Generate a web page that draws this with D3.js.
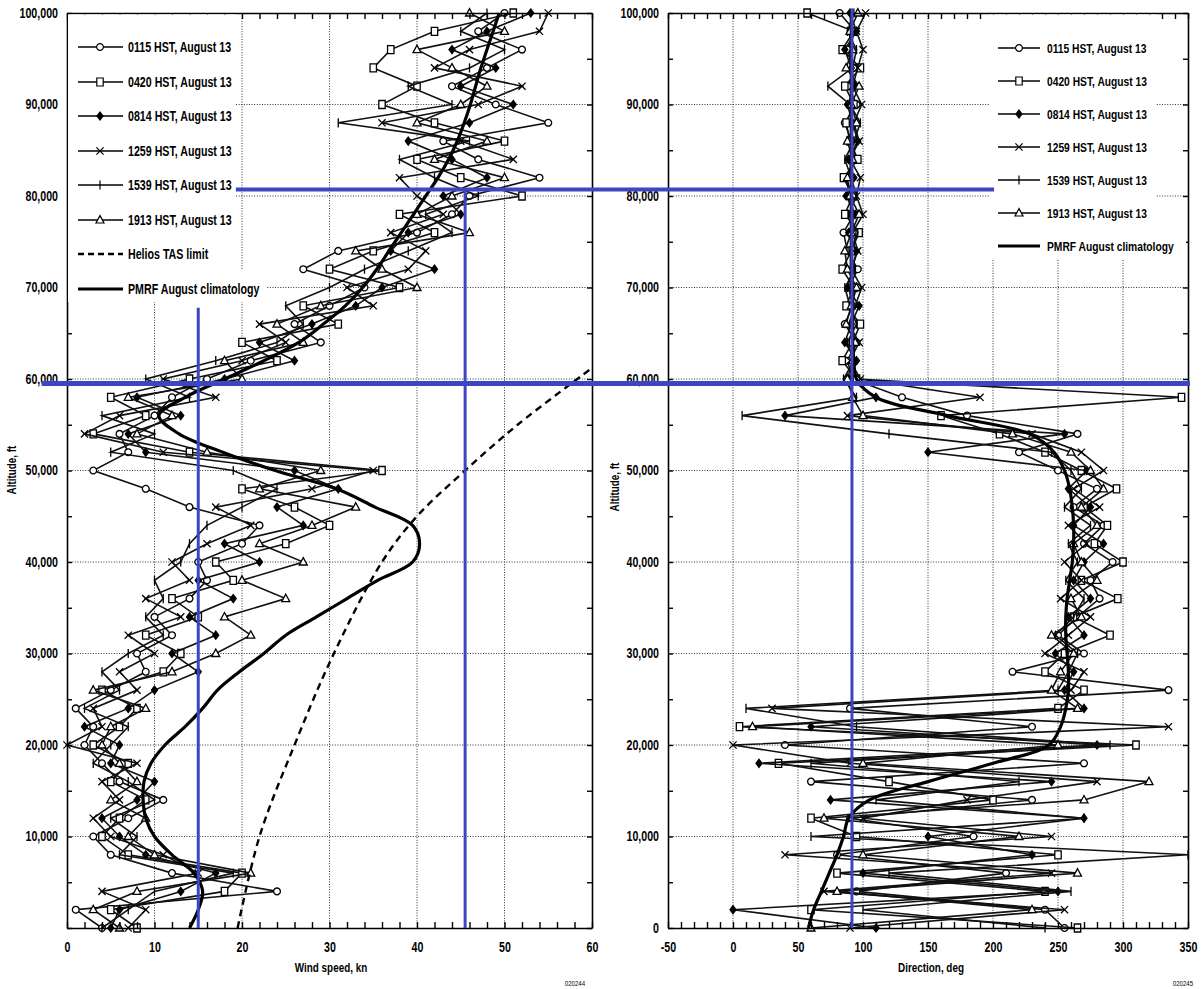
<!DOCTYPE html>
<html><head><meta charset="utf-8">
<script src="https://cdn.jsdelivr.net/npm/d3@7"></script>
<style>
html,body{margin:0;padding:0;background:#fff;}
svg{display:block;font-family:"Liberation Sans",Arial,sans-serif;font-weight:bold;}
</style></head>
<body>
<svg id="chart" width="1203" height="989"></svg>
<script>
// ---------------- DATA ----------------
const altitudesFt = [0,2000,4000,6000,8000,10000,12000,14000,16000,18000,20000,22000,24000,26000,28000,30000,32000,34000,36000,38000,40000,42000,44000,46000,48000,50000,52000,54000,56000,58000,60000,62000,64000,66000,68000,70000,72000,74000,76000,78000,80000,82000,84000,86000,88000,90000,92000,94000,96000,98000,100000];

const seriesNames = ["0115 HST, August 13","0420 HST, August 13","0814 HST, August 13","1259 HST, August 13","1539 HST, August 13","1913 HST, August 13"];
const markerTypes = ["circle","square","diamond","x","plus","triangle"];

// wind speed, kn
const speed0115 = [4,1,24,12,5,3,7,11,6,4,2,3,1,5,9,8,12,10,14,16,15,20,22,14,9,3,7,6,10,12,16,21,29,26,30,34,27,31,40,44,46,54,47,43,55,49,44,48,52,47,50];
const speed0420 = [8,5,18,20,7,4,6,9,5,7,3,6,8,4,11,13,9,15,12,19,17,25,30,26,20,36,14,3,9,5,14,24,20,31,27,38,30,35,42,38,52,45,40,50,42,36,40,35,37,42,51];
const speed0814 = [5,6,13,17,9,6,4,8,10,5,6,2,7,10,15,12,17,14,19,15,22,18,27,24,31,26,9,7,13,8,18,26,22,28,33,36,42,37,39,45,43,48,44,39,46,51,45,49,44,48,53];
const speed1259 = [7,9,4,15,11,5,3,6,4,8,0,4,3,8,6,10,7,13,9,14,12,16,21,17,28,35,11,2,6,17,11,20,25,22,35,32,39,41,37,43,40,38,51,45,36,47,52,42,46,54,55];
const speed1539 = [4,7,10,19,6,8,5,10,7,3,5,7,2,6,4,7,11,9,11,10,13,14,16,20,24,19,5,10,4,14,9,17,24,27,25,30,34,39,44,41,47,42,38,46,31,44,39,46,50,45,48];
const speed1913 = [6,3,8,21,10,7,9,5,8,6,4,5,9,3,12,17,21,18,25,20,27,22,28,33,22,29,16,8,12,7,20,18,27,24,29,40,36,33,46,40,44,50,42,48,40,45,48,44,40,50,46];
const climSpeed = [14,15,15.5,14.5,12,10,9,8.7,8.8,9.6,11.2,13.5,15.5,17.2,19.7,22.5,25,28.5,32,35.5,39.5,40.3,39.5,35.2,30.8,23.8,17.8,12.8,10.5,13.5,18,22.5,26.5,29.3,31.8,33.8,35.4,36.8,38.2,39.6,41,42.4,43.6,44.6,45.4,46.1,46.7,47.3,48,48.7,49.4];
const tasAltFt = [0,10000,20000,30000,40000,45000,50000,55000,61200];
const tasSpeed = [19.5,22,26,30.5,36,40,45.5,51.5,60];

// direction, deg
const dir0115 = [255,240,95,210,80,185,90,230,60,270,40,230,90,335,215,270,250,265,282,275,292,270,285,262,280,250,220,265,180,130,92,88,95,86,92,89,96,88,85,93,90,87,94,91,86,95,89,93,88,94,82];
const dir0420 = [265,60,240,80,250,95,60,200,120,35,310,5,250,270,240,255,290,262,296,268,300,278,288,270,295,268,240,205,160,345,95,84,92,98,87,93,84,91,97,86,92,85,96,90,87,93,86,98,84,93,57];
const dir0814 = [110,0,250,100,230,150,270,75,245,20,280,60,270,255,262,248,270,258,275,262,270,285,262,275,258,272,150,255,40,110,90,95,86,91,97,88,92,95,89,94,87,93,89,96,92,88,94,91,86,95,90];
const dir1259 = [90,255,70,245,40,245,100,180,280,90,0,335,30,260,270,240,258,275,252,268,255,272,258,282,262,285,268,230,88,190,98,90,97,89,94,99,91,96,92,100,95,98,90,97,93,99,92,96,100,95,102];
const dir1539 = [240,100,260,120,350,60,270,110,220,60,290,95,10,250,258,265,248,262,270,256,265,258,275,255,268,260,245,120,7,95,85,93,88,95,90,86,94,90,96,89,95,91,86,93,98,90,73,92,95,88,93];
const dir1913 = [60,230,80,265,100,220,70,270,320,100,250,15,265,245,252,262,245,268,260,280,268,262,280,268,285,275,260,215,100,92,88,92,94,87,91,95,88,86,91,97,90,88,92,88,95,91,97,87,92,90,96];
const climDir = [58,62,68,74,80,85,89,105,150,200,243,252,256,258,258,257,256,256,257,259,261,262,262,261,259,255,247,228,165,110,95,93,92,92,92,92,91,91,91,91,91,91,91,91,91,91,91,91,91,91,91];

const speedTicks = [0,10,20,30,40,50,60];
const dirTicks = [-50,0,50,100,150,200,250,300,350];
const altTicks = [0,10000,20000,30000,40000,50000,60000,70000,80000,90000,100000];

// annotation overlays (data units)
const annoSpeedKn = [15, 45.5];
const annoSpeedTopFt = [67800, 80700];
const annoDirDeg = 91.5;
const annoLevelsFt = [59500, 80700];

// ---------------- CHART ----------------
const svg = d3.select("#chart");
svg.append("rect").attr("width",1203).attr("height",989).attr("fill","#fff");

const y = d3.scaleLinear().domain([0,100000]).range([928,13]);
const xL = d3.scaleLinear().domain([0,60]).range([67,592]);
const xR = d3.scaleLinear().domain([-50,350]).range([668,1188]);

const fmt = d3.format(",");

function markerPath(t){
  switch(t){
    case "circle": return "M-3.4,0a3.4,3.4 0 1,0 6.8,0a3.4,3.4 0 1,0 -6.8,0Z";
    case "square": return "M-3.2,-4h6.4v8h-6.4Z";
    case "diamond": return "M0,-4L3,0L0,4L-3,0Z";
    case "x": return "M-3.6,-3.6L3.6,3.6M-3.6,3.6L3.6,-3.6";
    case "plus": return "M0,-4.6V4.6";
    case "triangle": return "M0,-4.4L4,3H-4Z";
  }
}
function markerFill(t){ return t==="diamond" ? "#000" : (t==="x"||t==="plus") ? "none" : "#fff"; }

function drawPanel(x, xTicksMajor, seriesVals, clim){
  const g = svg.append("g");
  const [x0,x1] = x.range();
  const dom = x.domain();
  g.append("g").selectAll("line").data(xTicksMajor.filter(v=>v>dom[0]&&v<dom[1])).join("line")
    .attr("x1",d=>x(d)).attr("x2",d=>x(d)).attr("y1",y(100000)).attr("y2",y(0))
    .attr("stroke","#333").attr("stroke-width",1).attr("stroke-dasharray","1,1.6");
  g.append("g").selectAll("line").data(altTicks.filter(v=>v>0&&v<100000)).join("line")
    .attr("x1",x0).attr("x2",x1).attr("y1",d=>y(d)).attr("y2",d=>y(d))
    .attr("stroke","#333").attr("stroke-width",1).attr("stroke-dasharray","1,1.6");
  const line = d3.line().x(d=>x(d[1])).y(d=>y(d[0]));
  seriesVals.forEach((vals,i)=>{
    const pts = altitudesFt.map((a,k)=>[a,vals[k]]);
    g.append("path").attr("d",line(pts)).attr("fill","none").attr("stroke","#111").attr("stroke-width",1.6);
    g.append("g").selectAll("path").data(pts).join("path")
      .attr("transform",d=>`translate(${x(d[1])},${y(d[0])})`)
      .attr("d",markerPath(markerTypes[i])).attr("fill",markerFill(markerTypes[i]))
      .attr("stroke","#000").attr("stroke-width",1.3);
  });
  const cl = d3.line().x(d=>x(d[1])).y(d=>y(d[0])).curve(d3.curveCatmullRom);
  g.append("path").attr("d",cl(altitudesFt.map((a,k)=>[a,clim[k]])))
    .attr("fill","none").attr("stroke","#000").attr("stroke-width",3.2);
  return g;
}

function drawAxes(g, x, xTicksMajor, minorStep, showYZero){
  const dom = x.domain();
  const minor = d3.range(dom[0], dom[1]+0.001, minorStep);
  const fmtX = d => xTicksMajor.includes(d) ? d : "";
  const ax = [];
  ax.push(g.append("g").attr("transform","translate(0,928)")
    .call(d3.axisBottom(x).tickValues(minor).tickSizeInner(-6).tickSizeOuter(0).tickPadding(14).tickFormat(fmtX)));
  ax.push(g.append("g").attr("transform","translate(0,13)")
    .call(d3.axisTop(x).tickValues(minor).tickSizeInner(-6).tickSizeOuter(0).tickFormat("")));
  const yMinor = d3.range(0,100001,5000);
  ax.push(g.append("g").attr("transform",`translate(${x.range()[0]},0)`)
    .call(d3.axisLeft(y).tickValues(yMinor).tickSizeInner(-5).tickSizeOuter(0).tickPadding(9)
      .tickFormat(d => (altTicks.includes(d) && (d>0 || showYZero)) ? fmt(d) : "")));
  ax.push(g.append("g").attr("transform",`translate(${x.range()[1]},0)`)
    .call(d3.axisRight(y).tickValues(yMinor).tickSizeInner(-5).tickSizeOuter(0).tickFormat("")));
  ax.forEach(a=>{
    a.select(".domain").attr("stroke","#000").attr("stroke-width",1.6);
    a.selectAll(".tick line").attr("stroke","#000").attr("stroke-width",1.4);
    a.selectAll("text").attr("font-size",14).attr("font-weight","bold").attr("fill","#000").attr("font-family",null);
  });
}

const gL = drawPanel(xL, speedTicks, [speed0115,speed0420,speed0814,speed1259,speed1539,speed1913], climSpeed);
gL.append("path").attr("d", d3.line().x(d=>xL(d[1])).y(d=>y(d[0])).curve(d3.curveCatmullRom)(tasAltFt.map((a,k)=>[a,tasSpeed[k]])))
  .attr("fill","none").attr("stroke","#000").attr("stroke-width",2.4).attr("stroke-dasharray","7,5");
const gR = drawPanel(xR, dirTicks, [dir0115,dir0420,dir0814,dir1259,dir1539,dir1913], climDir);

function legend(items, lineX1, lineX2, markX, textX, rows, box, fs, cls){
  const g = svg.append("g");
  box.forEach(b=> g.append("rect").attr("x",b[0]).attr("y",b[1]).attr("width",b[2]).attr("height",b[3]).attr("fill","#fff"));
  items.forEach((it,i)=>{
    const yy = rows[i];
    const ln = g.append("line").attr("x1",lineX1).attr("x2",lineX2).attr("y1",yy).attr("y2",yy).attr("stroke","#000")
      .attr("stroke-width", it.type==="clim"?3.2:1.6);
    if(it.type==="dash") ln.attr("stroke-dasharray","6,4").attr("stroke-width",2.6);
    if(markerTypes.includes(it.type)){
      g.append("path").attr("transform",`translate(${markX},${yy})`).attr("d",markerPath(it.type))
        .attr("fill",markerFill(it.type)).attr("stroke","#000").attr("stroke-width",1.2);
    }
    g.append("text").attr("class",cls).attr("x",textX).attr("y",yy).attr("dy","0.35em").attr("font-size",fs).text(it.label);
  });
  return g;
}
const legL = seriesNames.map((n,i)=>({label:n,type:markerTypes[i]}))
  .concat([{label:"Helios TAS limit",type:"dash"},{label:"PMRF August climatology",type:"clim"}]);
legend(legL, 78, 123, 100, 128, [47,82,116,151,185,220,254,289], [[68,14.5,168,262],[68,270,198,32]], 14, "legL");
const legR = seriesNames.map((n,i)=>({label:n,type:markerTypes[i]})).concat([{label:"PMRF August climatology",type:"clim"}]);
legend(legR, 998, 1040, 1019, 1047, [48,81,114,147,180,213,246], [[990,14.5,166,236],[990,230,196,30]], 13.5, "legR");

drawAxes(gL, xL, speedTicks, 2, false);
drawAxes(gR, xR, dirTicks, 10, true);

svg.append("text").attr("x",331).attr("y",972).attr("text-anchor","middle").attr("font-size",13).text("Wind speed, kn");
svg.append("text").attr("x",931).attr("y",972).attr("text-anchor","middle").attr("font-size",13).text("Direction, deg");
svg.append("text").attr("transform","translate(16,470) rotate(-90)").attr("text-anchor","middle").attr("font-size",13).text("Altitude, ft");
svg.append("text").attr("transform","translate(619,487) rotate(-90)").attr("text-anchor","middle").attr("font-size",13).text("Altitude, ft");
svg.append("text").attr("x",575).attr("y",986).attr("text-anchor","middle").attr("font-size",8).attr("font-weight","normal").text("020244");
svg.append("text").attr("x",1183).attr("y",986).attr("text-anchor","middle").attr("font-size",8).attr("font-weight","normal").text("020245");

// condense all text (narrow bold face in original)
svg.selectAll("text").each(function(){
  const l = this.getComputedTextLength();
  if(l>0){
    const nl = l*0.76;
    this.setAttribute("textLength", nl.toFixed(1)); this.setAttribute("lengthAdjust","spacingAndGlyphs");
    if(this.getAttribute("class")==="legR"){
      // anchor at the right end so the box never runs past the panel
      this.setAttribute("x", (+this.getAttribute("x") + nl).toFixed(1));
      this.setAttribute("text-anchor","end");
    }
  }
});

const blue = "#3c46c2";
const ov = svg.append("g").attr("stroke",blue).attr("fill","none");
ov.append("line").attr("x1",xL(-2.9)).attr("x2",xR(351.5)).attr("y1",y(annoLevelsFt[0])).attr("y2",y(annoLevelsFt[0])).attr("stroke-width",5);
ov.append("line").attr("x1",xL(19.3)).attr("x2",xR(200.8)).attr("y1",y(annoLevelsFt[1])).attr("y2",y(annoLevelsFt[1])).attr("stroke-width",4);
annoSpeedKn.forEach((v,i)=> ov.append("line").attr("x1",xL(v)).attr("x2",xL(v)).attr("y1",y(annoSpeedTopFt[i])).attr("y2",y(0)).attr("stroke-width",3));
ov.append("line").attr("x1",xR(annoDirDeg)).attr("x2",xR(annoDirDeg)).attr("y1",y(100500)).attr("y2",y(0)).attr("stroke-width",3);
</script>
</body></html>
